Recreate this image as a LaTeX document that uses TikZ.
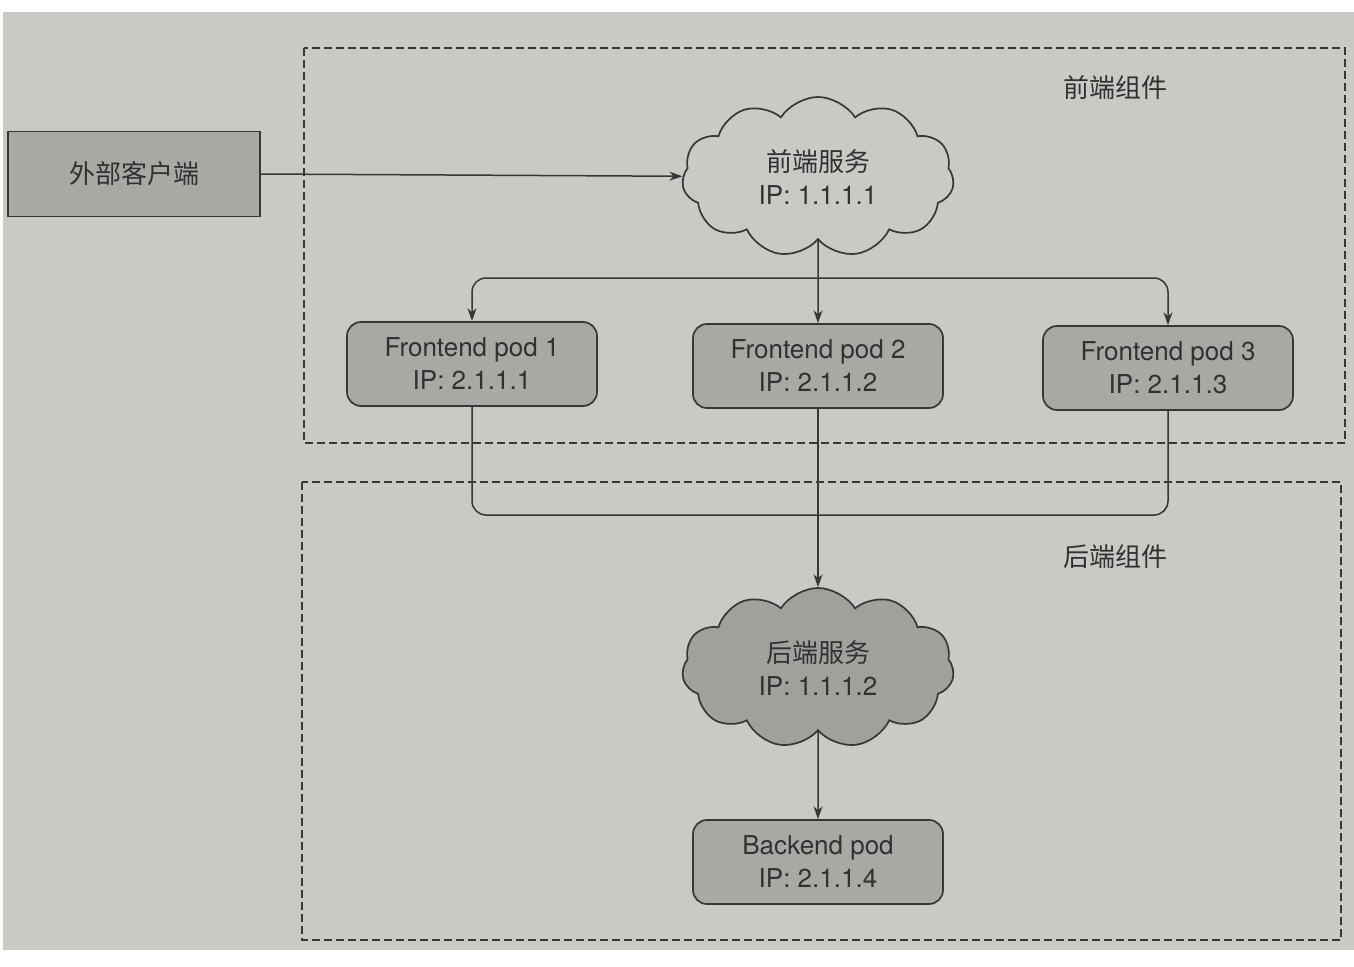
\documentclass[tikz,border=0pt]{standalone}
\usepackage{fontspec}
\setmainfont{TeX Gyre Heros}
\newfontfamily\cjk{Noto Sans CJK SC}
\usetikzlibrary{shapes.symbols,arrows.meta}
\definecolor{pagebg}{RGB}{203,201,198}
\definecolor{boxfill}{RGB}{170,168,165}
\definecolor{cloudfill}{RGB}{162,160,157}
\definecolor{ink}{RGB}{55,55,55}
\tikzset{
  txt/.style={font=\fontsize{26}{33}\selectfont, text=ink!90!black, align=center},
  podbox/.style={txt, draw=ink, line width=1.7pt, fill=boxfill, rounded corners=14pt, minimum width=250pt, minimum height=84pt, inner sep=0pt},
  clientbox/.style={txt, draw=ink, line width=1.7pt, fill=boxfill, minimum width=252pt, minimum height=85pt},
  cloudnode/.style={txt, cloud, cloud puffs=11, cloud puff arc=115, aspect=1.7, draw=ink, line width=1.7pt, minimum width=272pt, minimum height=160pt, inner sep=0pt},
  group/.style={draw=ink, line width=1.5pt, dash pattern=on 8pt off 4pt},
  conn/.style={draw=ink, line width=1.5pt, rounded corners=14pt},
  arr/.style={conn, -{Stealth[length=13pt,width=9pt]}},
  grplabel/.style={txt}
}
\begin{document}
\begin{tikzpicture}[x=1pt,y=-1pt]
\useasboundingbox (0,0) rectangle (1354,966);
\fill[white] (0,0) rectangle (1354,966);
\fill[pagebg] (3,12) rectangle (1354,950);

% group boxes
\draw[group] (304,48) rectangle (1345,443);
\draw[group] (302,482) rectangle (1341,940);
\node[grplabel] (lblf) at (1115,88) {\cjk 前端组件};
\node[grplabel] (lblb) at (1115,557) {\cjk 后端组件};

% nodes
\node[clientbox] (client) at (134,174) {\cjk 外部客户端};
\node[cloudnode, fill=pagebg] (fs) at (818,177) {{\cjk 前端服务}\\IP: 1.1.1.1};
\node[podbox] (p1) at (472,364) {Frontend pod 1\\IP: 2.1.1.1};
\node[podbox] (p2) at (818,366) {Frontend pod 2\\IP: 2.1.1.2};
\node[podbox] (p3) at (1168,368) {Frontend pod 3\\IP: 2.1.1.3};
\node[cloudnode, fill=cloudfill] (bs) at (818,668) {{\cjk 后端服务}\\IP: 1.1.1.2};
\node[podbox] (bp) at (818,862) {Backend pod\\IP: 2.1.1.4};

\coordinate (j1) at (818,278);
\coordinate (j2) at (818,515);

% connectors
\draw[arr] (client.east) -- (fs);
\draw[arr] (fs.south) -- (p2.north);
\draw[arr] (j1) -| (p1.north);
\draw[arr] (j1) -| (p3.north);
\draw[conn] (p1.south) |- (j2);
\draw[conn] (p3.south) |- (j2);
\draw[arr] (p2.south) -- (bs.north);
\draw[arr] (bs.south) -- (bp.north);
\end{tikzpicture}
\end{document}
